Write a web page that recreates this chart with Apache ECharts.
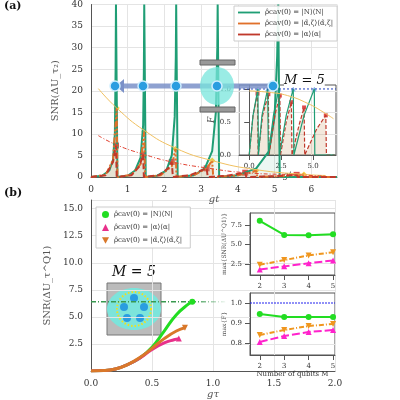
<!DOCTYPE html>
<html>
<head>
<meta charset="utf-8">
<script src="https://cdn.jsdelivr.net/npm/echarts@6/dist/echarts.min.js"></script>
<style>html,body{margin:0;padding:0;background:#fff}#c{width:400px;height:400px}</style>
</head>
<body>
<div id="c"></div>
<script>
// ---- panel (a) main: SNR vs gt ----
var aGreen = [[0,0],[0.3,0.3],[0.5,1.5],[0.6,4],[0.65,10],[0.67,25],[0.68,40],[0.72,40],[0.72,0],
  [1.0,0.3],[1.2,1.5],[1.35,4.5],[1.42,12],[1.44,25],[1.45,40],[1.49,40],[1.49,0],
  [1.8,0.3],[2.05,1.5],[2.2,5],[2.28,14],[2.31,28],[2.32,40],[2.36,40],[2.36,0],
  [2.8,0.4],[3.1,2],[3.3,6],[3.4,15],[3.44,30],[3.45,40],[3.49,40],[3.49,0],
  [4.0,0.4],[4.5,2],[4.85,6],[5.0,14],[5.07,28],[5.1,40],[5.14,40],[5.14,0],[6.7,0]];
var aOrange = [[0,0],[0.4,0.5],[0.6,4],[0.7,16],[0.72,0],[1.1,0.5],[1.35,3],[1.45,10.5],[1.47,0],
  [1.9,0.4],[2.2,2.5],[2.3,6.5],[2.33,0],[2.8,0.4],[3.15,2],[3.3,3.8],[3.33,0],
  [3.9,0.3],[4.35,1],[4.5,1.5],[4.53,0],[5.2,0.2],[5.7,0.5],[5.8,0.6],[5.83,0],[6.7,0]];
var aRed = [[0,0],[0.4,0.4],[0.6,3.5],[0.68,7.3],[0.7,0],[1.1,0.4],[1.32,2.5],[1.42,5.2],[1.44,0],
  [1.85,0.4],[2.1,2],[2.2,3.5],[2.23,0],[2.7,0.4],[3.0,1.5],[3.15,2.0],[3.18,0],
  [3.7,0.3],[4.05,0.8],[4.2,1.0],[4.23,0],[5.0,0.2],[5.5,0.45],[5.6,0.5],[5.63,0],[6.7,0]];
var aOrangeEnv = [[0.2,20.5],[0.7,16],[1.45,10.8],[2.3,6.7],[3.3,3.8],[4.5,1.7],[5.8,0.6],[6.4,0.35]];
var aRedEnv = [[0.2,9.6],[0.68,7.5],[1.42,5.3],[2.2,3.5],[3.15,2.1],[4.2,1.0],[5.6,0.5],[6.4,0.2]];
var aOrangePeaks = [[0.7,16],[1.45,10.5],[2.3,6.5],[3.3,3.8],[4.5,1.5],[5.8,0.6]];
var aRedPeaks = [[0.68,7.3],[1.42,5.2],[2.2,3.5],[3.15,2.0],[4.2,1.0],[5.6,0.5]];

// ---- panel (a) inset: fidelity ----
var fGreen = [[0,0],[0.3,0.6],[0.68,1],[0.72,0],[1.0,0.6],[1.45,1],[1.5,0],[1.9,0.6],[2.32,1],[2.38,0],
  [2.9,0.6],[3.45,1],[3.5,0],[4.3,0.6],[5.1,1],[5.14,0],[6.7,0]];
var fRed = [[0,0],[0.3,0.6],[0.65,0.93],[0.7,0],[1.05,0.6],[1.5,0.92],[1.55,0],[2.0,0.6],[2.4,0.9],[2.45,0],
  [2.9,0.5],[3.3,0.8],[3.35,0],[3.9,0.45],[4.3,0.72],[4.35,0],[5.3,0.4],[6.0,0.6],[6.05,0],[6.7,0]];
var fRedPeaks = [[0.65,0.93],[1.5,0.92],[2.4,0.9],[3.3,0.8],[4.3,0.72],[6.0,0.6]];
var fStars = [[0.68,1],[1.45,1],[2.32,1],[3.45,1],[5.1,1]];
var fEnv = [[0,0.97],[1.5,0.95],[3.0,0.9],[4.6,0.78],[5.8,0.65],[6.6,0.55]];

// ---- panel (b) main: SNR vs g tau ----
var bGreen = [[0,0.02],[0.1,0.05],[0.2,0.2],[0.3,0.6],[0.4,1.2],[0.5,2.2],[0.6,3.7],[0.7,5.2],[0.8,6.2],[0.83,6.4]];
var bMagenta = [[0,0.02],[0.1,0.05],[0.2,0.2],[0.3,0.6],[0.4,1.2],[0.5,2.0],[0.6,2.6],[0.68,2.9],[0.72,3.0]];
var bOrange = [[0,0.02],[0.1,0.05],[0.2,0.2],[0.3,0.6],[0.4,1.25],[0.5,2.1],[0.6,3.0],[0.7,3.7],[0.77,4.0]];
var bLevel = [[0,6.4],[1.1,6.4]];

// ---- panel (b) insets vs number of qubits ----
var qubits = [2, 3, 4, 5];
var snrGreen = [8.0, 6.2, 6.15, 6.3];
var snrMagenta = [1.8, 2.2, 2.6, 2.95];
var snrOrange = [2.4, 3.0, 3.6, 4.0];
var fidGreen = [0.945, 0.93, 0.93, 0.93];
var fidMagenta = [0.805, 0.835, 0.855, 0.865];
var fidOrange = [0.84, 0.865, 0.885, 0.895];

function zip(xs, ys) { return xs.map(function (x, i) { return [x, ys[i]]; }); }

var FONT = 'DejaVu Serif';
var lab = { fontFamily: FONT, fontSize: 9, color: '#333' };
var labS = { fontFamily: FONT, fontSize: 7, color: '#333' };
var split = { show: true, lineStyle: { color: '#e4e4e4' } };
var axLine = { show: true, lineStyle: { color: '#555' } };
var LINE_ICON = 'path://M0,4H24V6H0Z';

function atom(x, y) {
  return { type: 'circle', z: 100, shape: { cx: x, cy: y, r: 5 }, style: { fill: '#2a9de0', stroke: '#cfeeff', lineWidth: 1.5 } };
}

var myChart = echarts.init(document.getElementById('c'));
var option = {
  animation: false,
  backgroundColor: '#fff',
  grid: [
    { left: 91, top: 4, width: 246, height: 173 },
    { left: 239, top: 85, width: 97, height: 70, backgroundColor: '#fff', show: true, borderColor: '#555' },
    { left: 91, top: 200, width: 244, height: 177 },
    { left: 250, top: 213, width: 85, height: 62, show: true, backgroundColor: '#fff', borderColor: '#555' },
    { left: 250, top: 293, width: 85, height: 62, show: true, backgroundColor: '#fff', borderColor: '#555' }
  ],
  xAxis: [
    { gridIndex: 0, type: 'value', min: 0, max: 6.7, interval: 1, axisLabel: Object.assign({ formatter: function (v) { return v > 6 ? '' : v; } }, lab),
      splitLine: split, axisLine: axLine, axisTick: { show: false },
      name: 'gt', nameLocation: 'middle', nameGap: 12, nameTextStyle: { fontFamily: FONT, fontStyle: 'italic', fontSize: 10 } },
    { gridIndex: 1, type: 'value', min: -0.8, max: 6.8, axisLabel: Object.assign({ customValues: [0, 2.5, 5], formatter: function (v) { return v.toFixed(1); } }, labS),
      axisTick: { customValues: [0, 2.5, 5] }, splitLine: { show: false }, axisLine: axLine,
      name: 'gt', nameLocation: 'middle', nameGap: 10, nameTextStyle: { fontFamily: FONT, fontStyle: 'italic', fontSize: 9 } },
    { gridIndex: 2, type: 'value', min: 0, max: 2, interval: 0.5, axisLabel: Object.assign({ formatter: function (v) { return v.toFixed(1); } }, lab),
      splitLine: split, axisLine: axLine, axisTick: { show: false },
      name: 'gτ', nameLocation: 'middle', nameGap: 13, nameTextStyle: { fontFamily: FONT, fontStyle: 'italic', fontSize: 10 } },
    { gridIndex: 3, type: 'value', min: 1.6, max: 5.08, axisLabel: Object.assign({ customValues: qubits }, labS),
      axisTick: { customValues: qubits }, splitLine: { show: false }, axisLine: axLine },
    { gridIndex: 4, type: 'value', min: 1.6, max: 5.08, axisLabel: Object.assign({ customValues: qubits }, labS),
      axisTick: { customValues: qubits }, splitLine: { show: false }, axisLine: axLine,
      name: 'Number of qubits M', nameLocation: 'middle', nameGap: 11, nameTextStyle: { fontFamily: FONT, fontSize: 7, color: '#333' } }
  ],
  yAxis: [
    { gridIndex: 0, type: 'value', min: 0, max: 40, interval: 5, axisLabel: lab, splitLine: split, axisLine: axLine, axisTick: { show: false },
      name: 'SNR(ΔU_τ₂)', nameLocation: 'middle', nameGap: 22, nameTextStyle: { fontFamily: FONT, fontSize: 10 } },
    { gridIndex: 1, type: 'value', min: 0, max: 1.06, axisLabel: Object.assign({ customValues: [0, 0.5, 1], formatter: function (v) { return v.toFixed(1); } }, labS),
      axisTick: { customValues: [0, 0.5, 1] }, splitLine: { show: false }, axisLine: axLine,
      name: 'F', nameLocation: 'middle', nameGap: 18, nameTextStyle: { fontFamily: FONT, fontStyle: 'italic', fontSize: 9 } },
    { gridIndex: 2, type: 'value', min: 0, max: 15.8, interval: 2.5,
      axisLabel: Object.assign({ formatter: function (v) { return v === 0 ? '' : v.toFixed(1); } }, lab),
      splitLine: split, axisLine: axLine, axisTick: { show: false },
      name: 'SNR(ΔU_τ^Q1)', nameLocation: 'middle', nameGap: 27, nameTextStyle: { fontFamily: FONT, fontSize: 10 } },
    { gridIndex: 3, type: 'value', min: 1.1, max: 9, axisLabel: Object.assign({ customValues: [2.5, 5, 7.5], formatter: function (v) { return v.toFixed(1); } }, labS),
      axisTick: { customValues: [2.5, 5, 7.5] }, splitLine: { show: false }, axisLine: axLine,
      name: 'max{SNR(ΔU^Q1)}', nameLocation: 'middle', nameGap: 20, nameTextStyle: { fontFamily: FONT, fontSize: 6 } },
    { gridIndex: 4, type: 'value', min: 0.74, max: 1.05, axisLabel: Object.assign({ customValues: [0.8, 0.9, 1.0], formatter: function (v) { return v.toFixed(1); } }, labS),
      axisTick: { customValues: [0.8, 0.9, 1.0] }, splitLine: { show: false }, axisLine: axLine,
      name: 'max{F}', nameLocation: 'middle', nameGap: 20, nameTextStyle: { fontFamily: FONT, fontSize: 6 } }
  ],
  legend: [
    { left: 234, top: 6, orient: 'vertical', itemWidth: 22, itemHeight: 6, itemGap: 4, backgroundColor: 'rgba(255,255,255,0.9)',
      borderColor: '#ccc', borderWidth: 1, padding: [3, 4], textStyle: { fontFamily: FONT, fontSize: 7, color: '#333' },
      data: [{ name: 'ρ̂cav(0) = |N⟩⟨N|', icon: LINE_ICON }, { name: 'ρ̂cav(0) = |α̃,ζ⟩⟨α̃,ζ|', icon: LINE_ICON }, { name: 'ρ̂cav(0) = |α⟩⟨α|', icon: LINE_ICON }] },
    { left: 96, top: 207, orient: 'vertical', itemWidth: 7, itemHeight: 7, itemGap: 6, backgroundColor: 'rgba(255,255,255,0.9)',
      borderColor: '#ccc', borderWidth: 1, padding: [4, 6], textStyle: { fontFamily: FONT, fontSize: 7, color: '#333' },
      data: [{ name: 'ρ̂cav(0) = |N⟩⟨N| ', icon: 'circle' }, { name: 'ρ̂cav(0) = |α⟩⟨α| ', icon: 'triangle' },
        { name: 'ρ̂cav(0) = |α̃,ζ⟩⟨α̃,ζ| ', icon: 'path://M0,0H10L5,9Z' }] }
  ],
  series: [
    { name: 'ρ̂cav(0) = |N⟩⟨N|', type: 'line', xAxisIndex: 0, yAxisIndex: 0, data: aGreen, symbol: 'none',
      lineStyle: { color: '#1f9e75', width: 2 }, itemStyle: { color: '#1f9e75' }, areaStyle: { color: 'rgba(31,158,117,0.12)' } },
    { name: 'ρ̂cav(0) = |α̃,ζ⟩⟨α̃,ζ|', type: 'line', xAxisIndex: 0, yAxisIndex: 0, data: aOrange, symbol: 'none',
      lineStyle: { color: '#e0702a', width: 2, type: [6, 2, 2, 2, 2, 2] }, itemStyle: { color: '#e0702a' },
      areaStyle: { color: 'rgba(205,160,110,0.35)' } },
    { name: 'ρ̂cav(0) = |α⟩⟨α|', type: 'line', xAxisIndex: 0, yAxisIndex: 0, data: aRed, symbol: 'none',
      lineStyle: { color: '#c0392b', width: 2, type: [6, 3] }, itemStyle: { color: '#c0392b' } },
    { type: 'line', xAxisIndex: 0, yAxisIndex: 0, data: aOrangeEnv, showSymbol: false, smooth: true,
      lineStyle: { color: '#f0c060', width: 1 } },
    { type: 'line', xAxisIndex: 0, yAxisIndex: 0, data: aRedEnv, showSymbol: false, smooth: true,
      lineStyle: { color: '#e04030', width: 1, type: [4, 2, 1, 2] } },
    { type: 'scatter', xAxisIndex: 0, yAxisIndex: 0, data: aOrangePeaks, symbol: 'diamond', symbolSize: 6, itemStyle: { color: '#f5c518' } },
    { type: 'scatter', xAxisIndex: 0, yAxisIndex: 0, data: aRedPeaks, symbol: 'rect', symbolSize: 6, itemStyle: { color: '#d62020' } },

    { type: 'line', xAxisIndex: 1, yAxisIndex: 1, data: fRed, showSymbol: false,
      lineStyle: { color: '#c0392b', width: 1.2, type: [4, 2] }, areaStyle: { color: 'rgba(205,160,110,0.35)' } },
    { type: 'line', xAxisIndex: 1, yAxisIndex: 1, data: fGreen, showSymbol: false, lineStyle: { color: '#1f9e75', width: 1.2 } },
    { type: 'line', xAxisIndex: 1, yAxisIndex: 1, data: fEnv, showSymbol: false, smooth: true, lineStyle: { color: '#f0c060', width: 1 } },
    { type: 'line', xAxisIndex: 1, yAxisIndex: 1, data: [[-0.8, 1], [6.8, 1]], showSymbol: false, lineStyle: { color: '#2040c0', width: 1, type: [2, 2] } },
    { type: 'scatter', xAxisIndex: 1, yAxisIndex: 1, data: fStars, symbol: 'triangle', symbolSize: 5, itemStyle: { color: '#6aa0e0' } },
    { type: 'scatter', xAxisIndex: 1, yAxisIndex: 1, data: fRedPeaks, symbol: 'rect', symbolSize: 4, itemStyle: { color: '#d62020' } },

    { type: 'line', xAxisIndex: 2, yAxisIndex: 2, data: bLevel, showSymbol: false,
      lineStyle: { width: 1.5, type: [5, 2, 1, 2], color: { type: 'linear', x: 0, y: 0, x2: 1, y2: 0, colorStops: [{ offset: 0, color: '#3a9a50' }, { offset: 0.75, color: '#3a9a50' }, { offset: 1, color: 'rgba(58,154,80,0)' }] } } },
    { name: 'ρ̂cav(0) = |N⟩⟨N| ', type: 'line', xAxisIndex: 2, yAxisIndex: 2, data: bGreen, smooth: true, showSymbol: false,
      lineStyle: { color: '#22dd22', width: 3 }, itemStyle: { color: '#22dd22' },
      markPoint: { symbol: 'circle', symbolSize: 6, label: { show: false }, data: [{ coord: bGreen[bGreen.length - 1] }], itemStyle: { color: '#22dd22' } } },
    { name: 'ρ̂cav(0) = |α⟩⟨α| ', type: 'line', xAxisIndex: 2, yAxisIndex: 2, data: bMagenta, smooth: true, showSymbol: false,
      lineStyle: { color: '#e8308a', width: 3 }, itemStyle: { color: '#e8308a' },
      markPoint: { symbol: 'triangle', symbolSize: 6, label: { show: false }, data: [{ coord: bMagenta[bMagenta.length - 1] }], itemStyle: { color: '#e8308a' } } },
    { name: 'ρ̂cav(0) = |α̃,ζ⟩⟨α̃,ζ| ', type: 'line', xAxisIndex: 2, yAxisIndex: 2, data: bOrange, smooth: true, showSymbol: false,
      lineStyle: { color: '#d9782a', width: 3 }, itemStyle: { color: '#d9782a' },
      markPoint: { symbol: 'triangle', symbolRotate: 180, symbolSize: 6, label: { show: false }, data: [{ coord: bOrange[bOrange.length - 1] }], itemStyle: { color: '#d9782a' } } },

    { type: 'line', xAxisIndex: 3, yAxisIndex: 3, data: zip(qubits, snrGreen), symbol: 'circle', symbolSize: 6, lineStyle: { color: '#22dd22', width: 2 }, itemStyle: { color: '#22dd22' } },
    { type: 'line', xAxisIndex: 3, yAxisIndex: 3, data: zip(qubits, snrMagenta), symbol: 'triangle', symbolSize: 6, lineStyle: { color: '#ff22cc', width: 2, type: [8, 3] }, itemStyle: { color: '#ff22cc' } },
    { type: 'line', xAxisIndex: 3, yAxisIndex: 3, data: zip(qubits, snrOrange), symbol: 'triangle', symbolRotate: 180, symbolSize: 6, lineStyle: { color: '#f0961e', width: 2, type: [5, 2, 1, 2] }, itemStyle: { color: '#f0961e' } },
    { type: 'line', xAxisIndex: 4, yAxisIndex: 4, data: [[1.6, 1], [5.08, 1]], showSymbol: false, lineStyle: { color: '#2020ee', width: 1, type: [2, 1] } },
    { type: 'line', xAxisIndex: 4, yAxisIndex: 4, data: zip(qubits, fidGreen), symbol: 'circle', symbolSize: 6, lineStyle: { color: '#22dd22', width: 2 }, itemStyle: { color: '#22dd22' } },
    { type: 'line', xAxisIndex: 4, yAxisIndex: 4, data: zip(qubits, fidMagenta), symbol: 'triangle', symbolSize: 6, lineStyle: { color: '#ff22cc', width: 2, type: [8, 3] }, itemStyle: { color: '#ff22cc' } },
    { type: 'line', xAxisIndex: 4, yAxisIndex: 4, data: zip(qubits, fidOrange), symbol: 'triangle', symbolRotate: 180, symbolSize: 6, lineStyle: { color: '#f0961e', width: 2, type: [5, 2, 1, 2] }, itemStyle: { color: '#f0961e' } }
  ],
  graphic: [
    { type: 'text', left: 4, top: 1, style: { text: '(a)', font: 'bold 11px DejaVu Serif', fill: '#111' } },
    { type: 'text', left: 4, top: 188, style: { text: '(b)', font: 'bold 11px DejaVu Serif', fill: '#111' } },
    // atoms flying through the cavity (a)
    { type: 'line', z: 90, shape: { x1: 268, y1: 86, x2: 124, y2: 86 }, style: { stroke: '#7a90c8', lineWidth: 5, opacity: 0.85 } },
    { type: 'polygon', z: 90, shape: { points: [[124, 79], [124, 93], [116, 86]] }, style: { fill: '#7a90c8' } },
    { type: 'rect', z: 90, shape: { x: 200, y: 60, width: 35, height: 5 }, style: { fill: '#999', stroke: '#666' } },
    { type: 'rect', z: 90, shape: { x: 200, y: 107, width: 35, height: 5 }, style: { fill: '#999', stroke: '#666' } },
    { type: 'ellipse', z: 91, shape: { cx: 217, cy: 86, rx: 17, ry: 19 }, style: { fill: 'rgba(120,230,220,0.75)' } },
    atom(115, 86), atom(143, 86), atom(176, 86), atom(217, 86), atom(273, 86),
    { type: 'text', z: 100, left: 284, top: 74, style: { text: 'M = 5', font: 'italic 13px DejaVu Serif', fill: '#111', backgroundColor: '#fff' } },
    // cavity with qubits (b)
    { type: 'text', left: 112, top: 265, style: { text: 'M = 5', font: 'italic 14px DejaVu Serif', fill: '#111' } },
    { type: 'rect', shape: { x: 107, y: 283, width: 54, height: 52 }, style: { fill: '#bbb', stroke: '#777' } },
    { type: 'ellipse', shape: { cx: 134, cy: 309, rx: 27, ry: 21 }, style: { fill: 'rgba(120,230,220,0.95)' } },
    { type: 'circle', shape: { cx: 134, cy: 309, r: 17 }, style: { fill: 'none', stroke: '#f0e020', lineWidth: 2, lineDash: [1.5, 2] } },
    { type: 'circle', shape: { cx: 134, cy: 298, r: 4 }, style: { fill: '#2a9de0' } },
    { type: 'circle', shape: { cx: 124, cy: 307, r: 4 }, style: { fill: '#2a9de0' } },
    { type: 'circle', shape: { cx: 144, cy: 307, r: 4 }, style: { fill: '#2a9de0' } },
    { type: 'circle', shape: { cx: 127, cy: 318, r: 4 }, style: { fill: '#2a9de0' } },
    { type: 'circle', shape: { cx: 140, cy: 318, r: 4 }, style: { fill: '#2a9de0' } }
  ]
};
myChart.setOption(option);
</script>
</body>
</html>
